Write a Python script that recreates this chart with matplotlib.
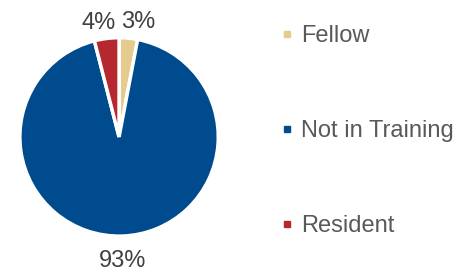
import matplotlib.pyplot as plt
from matplotlib.lines import Line2D

plt.rcParams['font.family'] = ['Liberation Sans', 'DejaVu Sans']

# data
labels = ['Fellow', 'Not in Training', 'Resident']
values = [3, 93, 4]
colors = ['#E6CB8E', '#004B8D', '#B5282F']

fig = plt.figure(figsize=(4.66, 2.73), dpi=100)
ax = fig.add_axes([-0.015, 0.037, 0.541, 0.923])

wedges, texts, pcts = ax.pie(values, colors=colors, startangle=90, counterclock=False,
                             autopct='%1.0f%%', pctdistance=1.25,
                             wedgeprops=dict(edgecolor='white', linewidth=2.5),
                             textprops=dict(color='#404040', fontsize=17))
ax.set_xlim(-1.27, 1.27)
ax.set_ylim(-1.27, 1.27)
ax.set_aspect('equal')

# the two small labels sit side by side just above the top of the pie
for p, x, ha in [(pcts[2], -0.03, 'right'), (pcts[0], 0.02, 'left')]:
    p.set_x(x)
    p.set_y(p.get_position()[1] * 1.16 / 1.25)
    p.set_ha(ha)

handles = [Line2D([], [], marker='s', linestyle='none', markersize=5, color=c) for c in colors]
leg = fig.legend(handles, labels, loc='upper left', bbox_to_anchor=(0.58, 0.943),
                 frameon=False, fontsize=17, labelspacing=3.1, handlelength=0.6,
                 handletextpad=0.3, borderaxespad=0)
for t in leg.get_texts():
    t.set_color('#595959')

fig.savefig('out.png', dpi=100)
